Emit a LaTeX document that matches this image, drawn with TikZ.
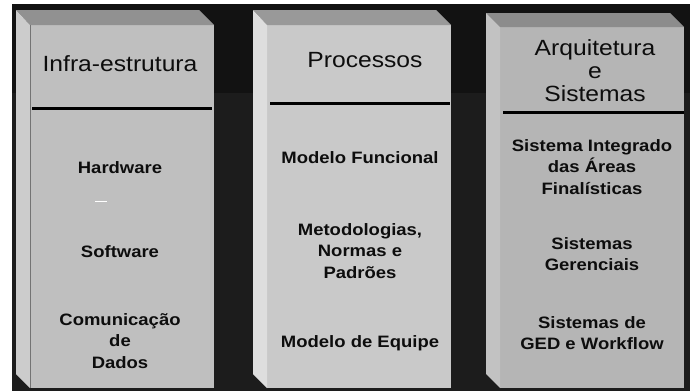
\documentclass[tikz,border=0pt]{standalone}
\usepackage{fontspec}
\setmainfont{Liberation Sans}
\newfontfamily\widesans[FakeStretch=1.12]{Liberation Sans}
\begin{document}
\begin{tikzpicture}[x=1pt,y=-1pt,
  title/.style={font=\widesans\fontsize{22}{24}\selectfont, text=black!95, align=center, inner sep=0pt},
  item/.style={font=\widesans\fontsize{16.5}{21.5}\selectfont\bfseries, text=black!95, align=center, inner sep=0pt},
  rule/.style={line width=3pt, black}]
\useasboundingbox (0,0) rectangle (692,391);
\fill[white] (0,0) rectangle (692,391);
\fill[black!93] (12,4) rectangle (690,391);
\fill[black!89] (12,93) rectangle (690,391);
% box 1
\fill[black!25] (30,25) rectangle (214,388);
\fill[black!43] (16,10) -- (199,10) -- (214,25) -- (30,25) -- cycle;
\fill[black!20] (16,10) -- (30,25) -- (30,388) -- (16,374) -- cycle;
\draw[black!55, line width=0.8pt] (30,25) -- (30,388);
% box 2
\fill[black!21] (267,25) rectangle (451,388);
\fill[black!40] (253,10) -- (436,10) -- (451,25) -- (267,25) -- cycle;
\fill[black!13] (253,10) -- (267,25) -- (267,388) -- (253,374) -- cycle;
% box 3
\fill[black!29] (500,27) rectangle (684,388);
\fill[black!45] (486,13) -- (670,13) -- (684,27) -- (500,27) -- cycle;
\fill[black!24] (486,13) -- (500,27) -- (500,388) -- (486,374) -- cycle;
% rules
\coordinate (r1a) at (32,108); \coordinate (r1b) at (212,108);
\coordinate (r2a) at (270,103); \coordinate (r2b) at (450,103);
\coordinate (r3a) at (503,112); \coordinate (r3b) at (684,112);
\draw[rule] (r1a) -- (r1b);
\draw[rule] (r2a) -- (r2b);
\draw[rule] (r3a) -- (r3b);
% white dash
\coordinate (d1) at (95,201); \coordinate (d2) at (107,201);
\draw[white, line width=1pt] (d1) -- (d2);
% titles
\node[title] (t1) at (120,64) {Infra-estrutura};
\node[title] (t2) at (365,60) {Processos};
\node[title] (t3) at (595,71) {Arquitetura\\[-1pt]e\\[-1pt]Sistemas};
% box 1 items
\node[item] (h1) at (120,168) {Hardware};
\node[item] (h2) at (120,252) {Software};
\node[item] (h3) at (120,341) {Comunicação\\de\\Dados};
% box 2 items
\node[item] (p1) at (360,158) {Modelo Funcional};
\node[item] (p2) at (360,251) {Metodologias,\\Normas e\\Padrões};
\node[item] (p3) at (360,343) {Modelo de Equipe};
% box 3 items
\node[item] (s1) at (592,167) {Sistema Integrado\\das Áreas\\Finalísticas};
\node[item] (s2) at (592,254) {Sistemas\\Gerenciais};
\node[item] (s3) at (592,333) {Sistemas de\\GED e Workflow};
\end{tikzpicture}
\end{document}
